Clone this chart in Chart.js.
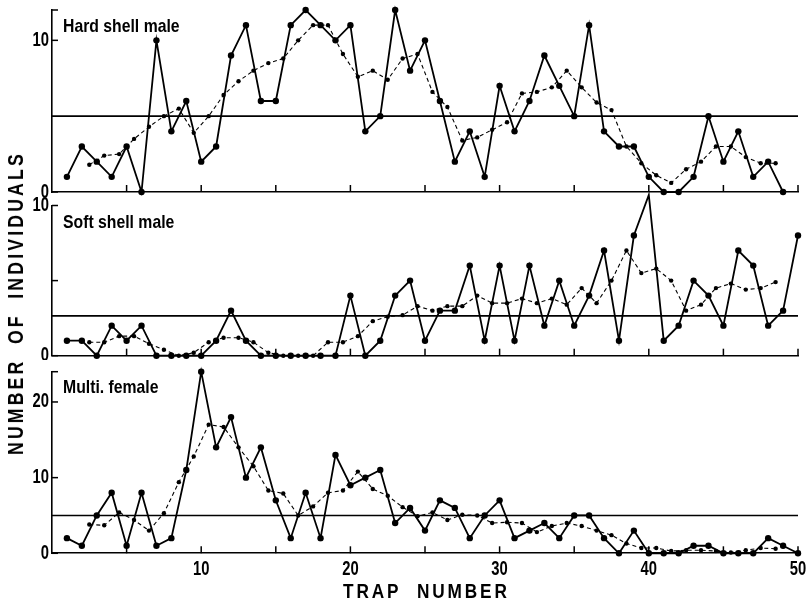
<!DOCTYPE html>
<html><head><meta charset="utf-8">
<script src="https://cdn.jsdelivr.net/npm/chart.js@4"></script>
<style>
html,body{margin:0;padding:0;background:#fff;}
#wrap{position:relative;width:809px;height:605px;overflow:hidden;background:#fff;}
canvas{position:absolute;left:0;}
.lbl{position:absolute;font-family:'Liberation Sans',Arial,sans-serif;font-weight:bold;color:#000;white-space:nowrap;line-height:1;transform-origin:0 0;}
</style></head><body>
<div id="wrap">
  <canvas id="c1" width="809" height="200" style="top:0px"></canvas>
  <canvas id="c2" width="809" height="175" style="top:185px"></canvas>
  <canvas id="c3" width="809" height="245" style="top:360px"></canvas>
  <div class="lbl" style="left:63px;top:16px;font-size:19px;transform:scaleX(0.83)">Hard shell male</div>
  <div class="lbl" style="left:63px;top:212px;font-size:19px;transform:scaleX(0.83)">Soft shell male</div>
  <div class="lbl" style="left:63px;top:377px;font-size:19px;transform:scaleX(0.83)">Multi. female</div>
  <div class="lbl" style="left:343px;top:580px;font-size:21px;letter-spacing:3.5px;word-spacing:10px;transform:scaleX(0.82)">TRAP NUMBER</div>
  <div class="lbl" style="left:16px;top:303px;font-size:22px;letter-spacing:4px;word-spacing:8px;transform-origin:50% 50%;transform:translate(-50%,-50%) rotate(-90deg) scaleX(0.8)">NUMBER OF INDIVIDUALS</div>
</div>
<script>
// ---- data ----
const trapNumbers = [1,2,3,4,5,6,7,8,9,10,11,12,13,14,15,16,17,18,19,20,21,22,23,24,25,26,27,28,29,30,31,32,33,34,35,36,37,38,39,40,41,42,43,44,45,46,47,48,49,50];
const avgPositions = [2.5,3.5,4.5,5.5,6.5,7.5,8.5,9.5,10.5,11.5,12.5,13.5,14.5,15.5,16.5,17.5,18.5,19.5,20.5,21.5,22.5,23.5,24.5,25.5,26.5,27.5,28.5,29.5,30.5,31.5,32.5,33.5,34.5,35.5,36.5,37.5,38.5,39.5,40.5,41.5,42.5,43.5,44.5,45.5,46.5,47.5,48.5];

const hardShellMale = [1,3,2,1,3,0,10,4,6,2,3,9,11,6,6,11,12,11,10,11,4,5,12,8,10,6,2,4,1,7,4,6,9,7,5,11,4,3,3,1,0,0,1,5,2,4,1,2,0,null];
const hardShellMaleAvg = [1.8,2.4,2.5,3.5,4.3,5.0,5.5,3.9,5.0,6.4,7.3,8.0,8.5,8.8,10.0,11.0,11.0,9.1,7.6,8.0,7.4,8.8,9.1,6.6,5.6,3.4,3.6,4.1,4.6,6.5,6.6,6.9,8.0,6.9,5.9,5.4,3.0,1.9,1.1,0.6,1.5,2.0,3.0,3.0,2.3,1.9,1.9];
const hardShellMaleRef = 5;

const softShellMale = [1,1,0,2,1,2,0,0,0,0,1,3,1,0,0,0,0,0,0,4,0,1,4,5,1,3,3,6,1,6,1,6,2,5,2,4,7,1,8,10.7,1,2,5,4,2,7,6,2,3,8];
const softShellMaleAvg = [0.9,0.9,1.3,1.3,0.8,0.4,0,0.2,0.9,1.2,1.2,0.9,0.2,0,0,0,0.9,0.9,1.3,2.3,2.6,2.7,3.3,3.0,3.3,3.3,4.0,3.5,3.5,3.8,3.5,3.8,3.4,4.5,3.5,5.0,7.0,5.5,5.8,5.0,3.0,3.4,4.5,4.8,4.4,4.5,4.9];
const softShellMaleRef = 2.65;

const multiFemale = [2,1,5,8,1,8,1,2,11,24,14,18,10,14,7,2,8,2,13,9,10,11,4,6,3,7,6,2,5,7,2,3,4,2,5,5,2,0,3,0,0,0,1,1,0,0,0,2,1,0];
const multiFemaleAvg = [3.8,3.7,5.4,4.4,3.0,5.3,9.4,12.8,17.0,16.7,14.0,11.5,8.3,7.9,5.0,6.2,8.0,8.3,10.8,8.5,7.6,6.1,4.9,5.4,4.4,5.1,5.0,4.0,4.1,4.0,2.8,3.6,4.0,3.6,3.0,2.4,1.3,0.7,0.7,0.3,0.4,0.4,0.3,0.1,0.4,0.7,0.6];
const multiFemaleRef = 5;

const xRange = [0, 50];
const xTickMarks = [5,10,15,20,25,30,35,40,45,50];
const xTickLabels = [10,20,30,40,50];

Chart.defaults.font.family = "'Liberation Sans', Arial, sans-serif";
Chart.defaults.color = '#000';

const TICK_FONT = "bold 20px 'Liberation Sans', Arial, sans-serif";
const SQUEEZE = 0.74;

const innerTicks = {
  id: 'innerTicks',
  afterDatasetsDraw(chart, args, opts) {
    const {ctx, chartArea, scales} = chart;
    ctx.save();
    ctx.strokeStyle = '#000';
    ctx.fillStyle = '#000';
    ctx.lineWidth = 1.5;
    (opts.xMarks || []).forEach(v => {
      const px = scales.x.getPixelForValue(v);
      ctx.beginPath(); ctx.moveTo(px, chartArea.bottom); ctx.lineTo(px, chartArea.bottom - 7); ctx.stroke();
    });
    (opts.yMarks || []).forEach(v => {
      const py = scales.y.getPixelForValue(v);
      ctx.beginPath(); ctx.moveTo(chartArea.left, py); ctx.lineTo(chartArea.left + 6, py); ctx.stroke();
    });
    ctx.font = TICK_FONT;
    (opts.yLabels || []).forEach(v => {
      const py = scales.y.getPixelForValue(v);
      ctx.save();
      ctx.translate(chartArea.left - 3, py);
      ctx.scale(SQUEEZE, 1);
      ctx.textAlign = 'right'; ctx.textBaseline = 'middle';
      ctx.fillText(String(v), 0, 0);
      ctx.restore();
    });
    (opts.xLabels || []).forEach(v => {
      const px = scales.x.getPixelForValue(v);
      ctx.save();
      ctx.translate(px, chartArea.bottom + 22);
      ctx.scale(SQUEEZE, 1);
      ctx.textAlign = 'center'; ctx.textBaseline = 'alphabetic';
      ctx.fillText(String(v), 0, 0);
      ctx.restore();
    });
    ctx.restore();
  }
};

function pts(xs, ys) { return xs.map((x, i) => ({x: x, y: ys[i]})); }

function makePanel(id, canvasTop, canvasH, plotTop, plotBottom, ymax, yMarks, yLabels, solid, avg, ref, xLabels) {
  const xAxisH = canvasH - (plotBottom - canvasTop);
  new Chart(document.getElementById(id), {
    type: 'line',
    data: {
      datasets: [
        {data: pts(xRange, [ref, ref]), borderColor: '#000', borderWidth: 1.6, pointRadius: 0, clip: false},
        {data: pts(avgPositions, avg), borderColor: '#000', borderWidth: 1.1, borderDash: [4, 3],
         pointRadius: 2.2, pointBackgroundColor: '#000', pointBorderWidth: 0, clip: false},
        {data: pts(trapNumbers, solid), borderColor: '#000', borderWidth: 1.8,
         pointRadius: 3.2, pointBackgroundColor: '#000', pointBorderWidth: 0, clip: false, spanGaps: false}
      ]
    },
    options: {
      responsive: false, animation: false,
      layout: {padding: {top: plotTop - canvasTop, right: 11, left: 0, bottom: 0}},
      plugins: {legend: {display: false}, tooltip: {enabled: false},
                innerTicks: {xMarks: xTickMarks, yMarks: yMarks, yLabels: yLabels, xLabels: xLabels}},
      scales: {
        x: {
          type: 'linear', min: xRange[0], max: xRange[1],
          grid: {display: false, drawTicks: false},
          border: {display: true, color: '#000', width: 1.6},
          ticks: {display: false},
          afterFit: s => { s.height = xAxisH; }
        },
        y: {
          min: 0, max: ymax,
          grid: {display: false, drawTicks: false},
          border: {display: true, color: '#000', width: 1.6},
          ticks: {display: false},
          afterFit: s => { s.width = 52; }
        }
      }
    },
    plugins: [innerTicks]
  });
}

makePanel('c1', 0, 200, 10, 192, 12, [0, 10, 12], [0, 10], hardShellMale, hardShellMaleAvg, hardShellMaleRef, []);
makePanel('c2', 185, 175, 205.5, 355.7, 10, [0, 5, 10], [0, 10], softShellMale, softShellMaleAvg, softShellMaleRef, []);
makePanel('c3', 360, 245, 371.7, 553.3, 24, [0, 10, 20, 24], [0, 10, 20], multiFemale, multiFemaleAvg, multiFemaleRef, xTickLabels);
</script>
</body></html>
